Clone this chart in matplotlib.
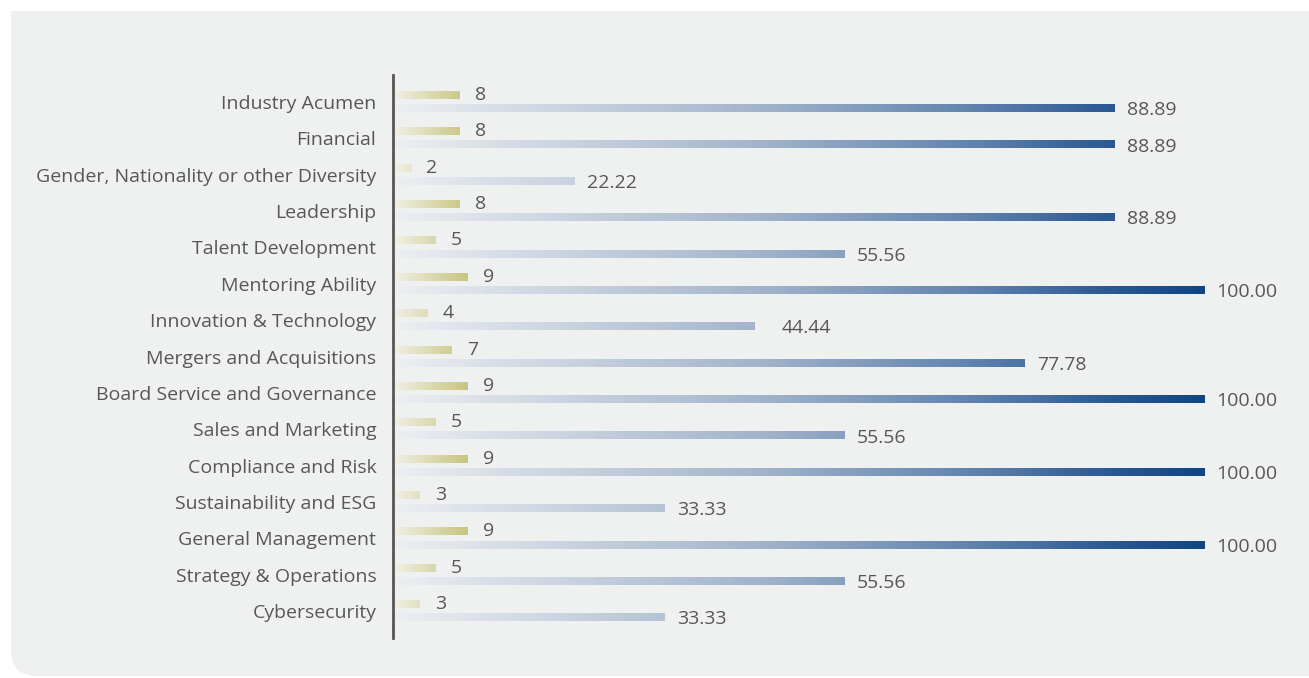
import matplotlib
matplotlib.use("Agg")
import matplotlib.pyplot as plt
import numpy as np
from matplotlib.colors import LinearSegmentedColormap
from matplotlib.patches import FancyBboxPatch, Rectangle

# data
skills = ["Industry Acumen", "Financial", "Gender, Nationality or other Diversity",
          "Leadership", "Talent Development", "Mentoring Ability",
          "Innovation & Technology", "Mergers and Acquisitions",
          "Board Service and Governance", "Sales and Marketing",
          "Compliance and Risk", "Sustainability and ESG", "General Management",
          "Strategy & Operations", "Cybersecurity"]
counts = [8, 8, 2, 8, 5, 9, 4, 7, 9, 5, 9, 3, 9, 5, 3]
percents = [88.89, 88.89, 22.22, 88.89, 55.56, 100.00, 44.44, 77.78,
            100.00, 55.56, 100.00, 33.33, 100.00, 55.56, 33.33]

W, H = 1309, 678
FONT = "Open Sans"
TXT = "#575757"
FS = 14
fig = plt.figure(figsize=(W / 100, H / 100), dpi=100, facecolor="white")

# background panel, rounded bottom-left corner only
panel = FancyBboxPatch((11 / W, (H - 676) / H), 1.2, 1.2,
                       boxstyle="round,pad=0,rounding_size=0.02",
                       mutation_aspect=W / H,
                       transform=fig.transFigure, facecolor="#eff1f0",
                       edgecolor="none", zorder=-2)
fig.patches.append(panel)
fig.patches.append(Rectangle((0, 1 - 11 / H), 1, 11 / H, transform=fig.transFigure,
                             facecolor="white", edgecolor="none", zorder=-1))

ax_left, ax_right = 393, 1302
ax_top, ax_bot = 75, 638
ax = fig.add_axes([ax_left / W, 1 - ax_bot / H, (ax_right - ax_left) / W,
                   (ax_bot - ax_top) / H])
ax.set_zorder(2)
ax.set_facecolor("none")
n = len(skills)

blue = LinearSegmentedColormap.from_list(
    "blue", [(0, "#eceef2"), (0.45, "#a2b4cb"), (0.72, "#5f82ad"),
             (0.88, "#2c5a94"), (1, "#0f4584")])
gold = LinearSegmentedColormap.from_list("gold", ["#f0efe3", "#c8c47f"])

bh = 0.22
cmax = max(counts)
for i in range(n):
    # count bar
    c = counts[i]
    y0 = i - 0.19
    r = Rectangle((0, y0 - bh / 2), c, bh, facecolor="none", edgecolor="none")
    ax.add_patch(r)
    g = np.linspace(0, c / cmax, 200).reshape(1, -1)
    im = ax.imshow(g, cmap=gold, vmin=0, vmax=1, aspect="auto",
                   extent=(0, c, y0 + bh / 2, y0 - bh / 2), interpolation="bilinear")
    im.set_clip_path(r)
    ax.annotate(str(c), (c, y0), xytext=(11, 0), textcoords="offset points",
                va="center", ha="left", fontsize=FS, color=TXT, family=FONT)

    # percent bar
    p = percents[i]
    y1 = i + 0.17
    r = Rectangle((0, y1 - bh / 2), p, bh, facecolor="none", edgecolor="none")
    ax.add_patch(r)
    g = np.linspace(0, p / 100, 400).reshape(1, -1)
    im = ax.imshow(g, cmap=blue, vmin=0, vmax=1, aspect="auto",
                   extent=(0, p, y1 + bh / 2, y1 - bh / 2), interpolation="bilinear")
    im.set_clip_path(r)
    pad = 19.5 if i == 6 else 8.5
    ax.annotate("%.2f" % p, (p, y1), xytext=(pad, -1.5), textcoords="offset points",
                va="center", ha="left", fontsize=FS, color=TXT, family=FONT)

ax.set_xlim(-0.25, 112)
ax.set_ylim(n - 1 + 0.74, -0.74)
ax.set_yticks(range(n))
ax.set_yticklabels(skills, fontsize=FS, color=TXT, family=FONT)
ax.tick_params(axis="y", length=0, pad=12)
ax.set_xticks([])
for s in ["top", "right", "bottom"]:
    ax.spines[s].set_visible(False)
ax.spines["left"].set_color("#555555")
ax.spines["left"].set_linewidth(2)

fig.savefig("out.png", dpi=100, facecolor="white")
